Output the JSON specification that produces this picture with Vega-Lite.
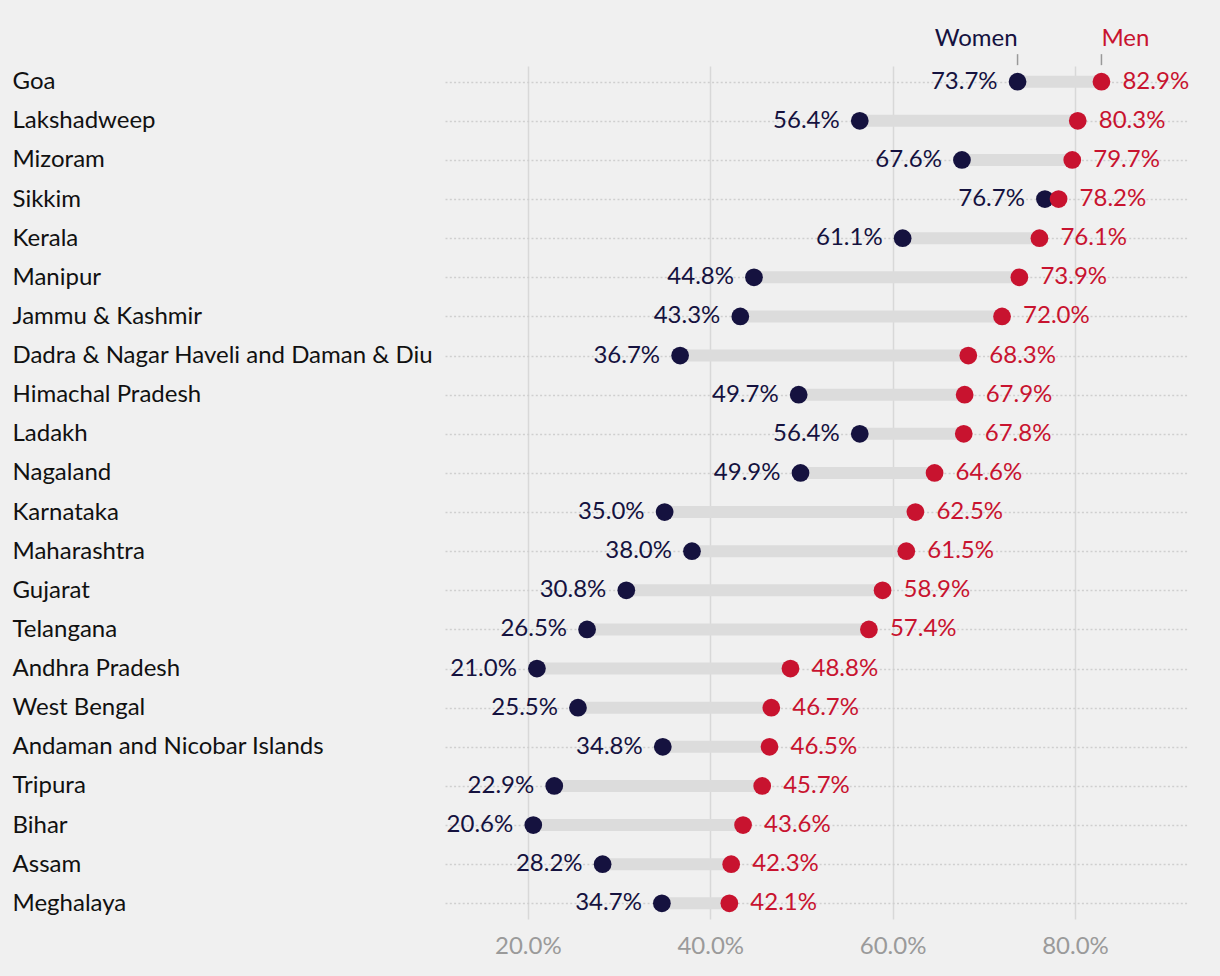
{
  "$schema": "https://vega.github.io/schema/vega-lite/v6.json",
  "autosize": {"type": "none"},
  "padding": {"left": 445, "top": 66, "right": 33, "bottom": 57},
  "width": 742,
  "height": 853,
  "background": "#f0f0f0",
  "config": {
    "view": {"stroke": null},
    "font": "Lato",
    "text": {"font": "Lato", "fontSize": 24}
  },
  "data": {
    "values": [
      {"state": "Goa", "women": 0.737, "men": 0.829},
      {"state": "Lakshadweep", "women": 0.564, "men": 0.803},
      {"state": "Mizoram", "women": 0.676, "men": 0.797},
      {"state": "Sikkim", "women": 0.767, "men": 0.782},
      {"state": "Kerala", "women": 0.611, "men": 0.761},
      {"state": "Manipur", "women": 0.448, "men": 0.739},
      {"state": "Jammu & Kashmir", "women": 0.433, "men": 0.720},
      {"state": "Dadra & Nagar Haveli and Daman & Diu", "women": 0.367, "men": 0.683},
      {"state": "Himachal Pradesh", "women": 0.497, "men": 0.679},
      {"state": "Ladakh", "women": 0.564, "men": 0.678},
      {"state": "Nagaland", "women": 0.499, "men": 0.646},
      {"state": "Karnataka", "women": 0.350, "men": 0.625},
      {"state": "Maharashtra", "women": 0.380, "men": 0.615},
      {"state": "Gujarat", "women": 0.308, "men": 0.589},
      {"state": "Telangana", "women": 0.265, "men": 0.574},
      {"state": "Andhra Pradesh", "women": 0.210, "men": 0.488},
      {"state": "West Bengal", "women": 0.255, "men": 0.467},
      {"state": "Andaman and Nicobar Islands", "women": 0.348, "men": 0.465},
      {"state": "Tripura", "women": 0.229, "men": 0.457},
      {"state": "Bihar", "women": 0.206, "men": 0.436},
      {"state": "Assam", "women": 0.282, "men": 0.423},
      {"state": "Meghalaya", "women": 0.347, "men": 0.421}
    ]
  },
  "encoding": {
    "y": {
      "field": "state",
      "type": "nominal",
      "sort": null,
      "title": null,
      "scale": {"type": "point", "padding": 0.4},
      "axis": {
        "orient": "left",
        "ticks": false,
        "domain": false,
        "labelAlign": "left",
        "labelPadding": 433,
        "labelFont": "Lato",
        "labelFontSize": 24,
        "labelColor": "#111111",
        "labelLimit": 0,
        "grid": true,
        "gridColor": "#cfcfcf",
        "gridDash": [2, 2.3],
        "gridWidth": 1.5
      }
    }
  },
  "layer": [
    {
      "mark": {"type": "rule", "strokeWidth": 12, "color": "#dcdcdc"},
      "encoding": {
        "x": {
          "field": "women",
          "type": "quantitative",
          "title": null,
          "scale": {"domain": [0.1092, 0.9228], "nice": false, "zero": false},
          "axis": {
            "values": [0.2, 0.4, 0.6, 0.8],
            "format": ".1%",
            "ticks": false,
            "domain": false,
            "labelFont": "Lato",
            "labelFontSize": 24,
            "labelColor": "#9a9a9a",
            "labelPadding": 15,
            "grid": true,
            "gridColor": "#d8d8d8",
            "gridWidth": 1.5
          }
        },
        "x2": {"field": "men"}
      }
    },
    {
      "mark": {"type": "circle", "size": 315, "opacity": 1, "color": "#15123f"},
      "encoding": {"x": {"field": "women", "type": "quantitative"}}
    },
    {
      "mark": {"type": "circle", "size": 315, "opacity": 1, "color": "#c8132f"},
      "encoding": {"x": {"field": "men", "type": "quantitative"}}
    },
    {
      "mark": {"type": "text", "align": "right", "baseline": "middle", "dx": -20, "color": "#15123f", "fontSize": 24},
      "encoding": {
        "x": {"field": "women", "type": "quantitative"},
        "text": {"field": "women", "type": "quantitative", "format": ".1%"}
      }
    },
    {
      "mark": {"type": "text", "align": "left", "baseline": "middle", "dx": 21, "color": "#c8132f", "fontSize": 24},
      "encoding": {
        "x": {"field": "men", "type": "quantitative"},
        "text": {"field": "men", "type": "quantitative", "format": ".1%"}
      }
    },
    {
      "transform": [{"filter": "datum.state === 'Goa'"}],
      "mark": {"type": "text", "align": "right", "baseline": "alphabetic", "dy": -36, "color": "#15123f", "fontSize": 24, "text": "Women"},
      "encoding": {"x": {"field": "women", "type": "quantitative"}}
    },
    {
      "transform": [{"filter": "datum.state === 'Goa'"}],
      "mark": {"type": "text", "align": "left", "baseline": "alphabetic", "dy": -36, "color": "#c8132f", "fontSize": 24, "text": "Men"},
      "encoding": {"x": {"field": "men", "type": "quantitative"}}
    },
    {
      "transform": [{"filter": "datum.state === 'Goa'"}],
      "mark": {"type": "tick", "orient": "vertical", "size": 11, "thickness": 1.5, "yOffset": -22, "color": "#999999", "opacity": 1},
      "encoding": {"x": {"field": "women", "type": "quantitative"}}
    },
    {
      "transform": [{"filter": "datum.state === 'Goa'"}],
      "mark": {"type": "tick", "orient": "vertical", "size": 11, "thickness": 1.5, "yOffset": -22, "color": "#999999", "opacity": 1},
      "encoding": {"x": {"field": "men", "type": "quantitative"}}
    }
  ]
}
